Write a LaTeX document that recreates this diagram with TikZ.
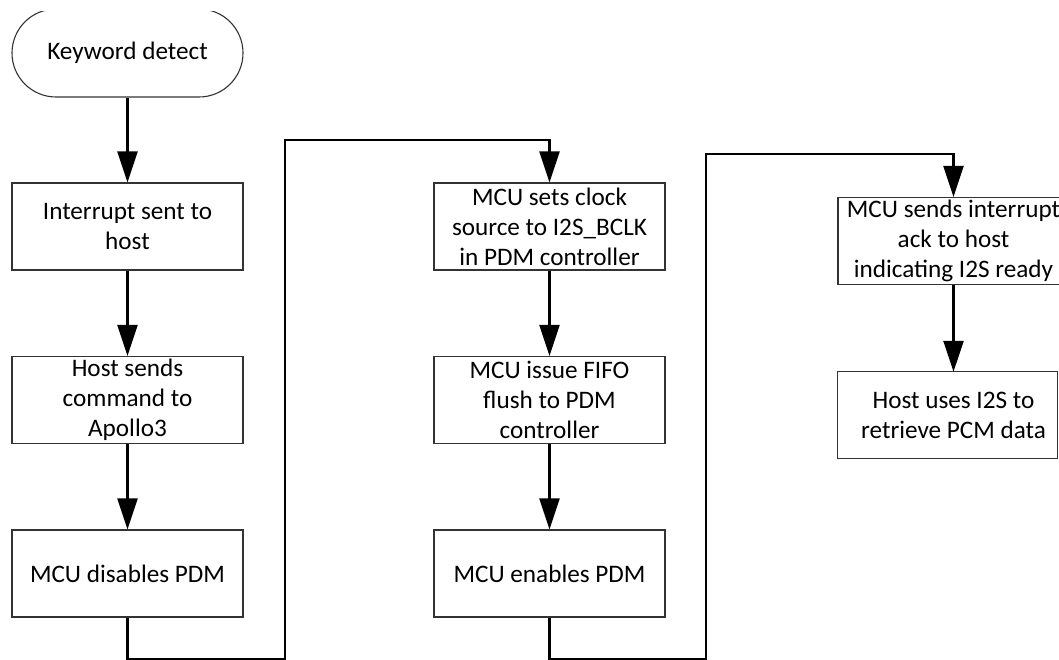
\documentclass[tikz,border=0pt]{standalone}
\usepackage{fontspec}
\setmainfont{Carlito}
\usetikzlibrary{arrows.meta}
\begin{document}
\begin{tikzpicture}[x=1pt,y=-1pt,
  txt/.style={font=\fontsize{25.2pt}{30pt}\selectfont, align=center, inner xsep=2pt, inner ysep=0pt, text=black},
  box/.style={txt, draw=black!80, line width=1.1pt, minimum width=231pt, minimum height=87pt},
  plain/.style={txt, minimum width=231pt, minimum height=86pt},
  boxline/.style={draw=black!80, line width=1.1pt},
  termbox/.style={box, rounded corners=44pt, minimum height=88pt},
  conn/.style={line width=2.4pt, -{Triangle[length=31pt,width=20pt]}},
  wire/.style={line width=2.4pt}]
\useasboundingbox (0,0) rectangle (1059,660);
\begin{scope}
\clip (0,11.5) rectangle (1059,660);
% column 1
\node[termbox] (t) at (127.5,53) {Keyword detect};
\node[box] (a1) at (127.5,226.5) {Interrupt sent to\\host};
\node[box] (a2) at (127.5,400) {Host sends\\command to\\Apollo3};
\node[box] (a3) at (127.5,573.5) {MCU disables PDM};
% column 2
\node[box] (b1) at (549.5,226.5) {MCU sets clock\\source to I2S\_BCLK\\in PDM controller};
\node[box] (b2) at (549.5,400) {MCU issue FIFO\\flush to PDM\\controller};
\node[box] (b3) at (549.5,573.5) {MCU enables PDM};
% column 3
\node[box] (c1) at (953.5,241) {MCU sends interrupt\\ack to host\\indicating I2S ready};
\node[plain] (c2) at (953.5,415) {Host uses I2S to\\retrieve PCM data};
\draw[boxline] (c2.north west) rectangle ([xshift=-12pt]c2.south east);
% junction points
\coordinate (j1) at (285,659);
\coordinate (j2) at (285,140);
\coordinate (k1) at (706,659);
\coordinate (k2) at (706,154);
% connectors
\draw[conn] (t) -- (a1);
\draw[conn] (a1) -- (a2);
\draw[conn] (a2) -- (a3);
\draw[conn] (a3.south) |- (j1) -- (j2) -| (b1.north);
\draw[conn] (b1) -- (b2);
\draw[conn] (b2) -- (b3);
\draw[conn] (b3.south) |- (k1) -- (k2) -| (c1.north);
\draw[conn] (c1) -- (c2.north);
\end{scope}
\end{tikzpicture}
\end{document}
